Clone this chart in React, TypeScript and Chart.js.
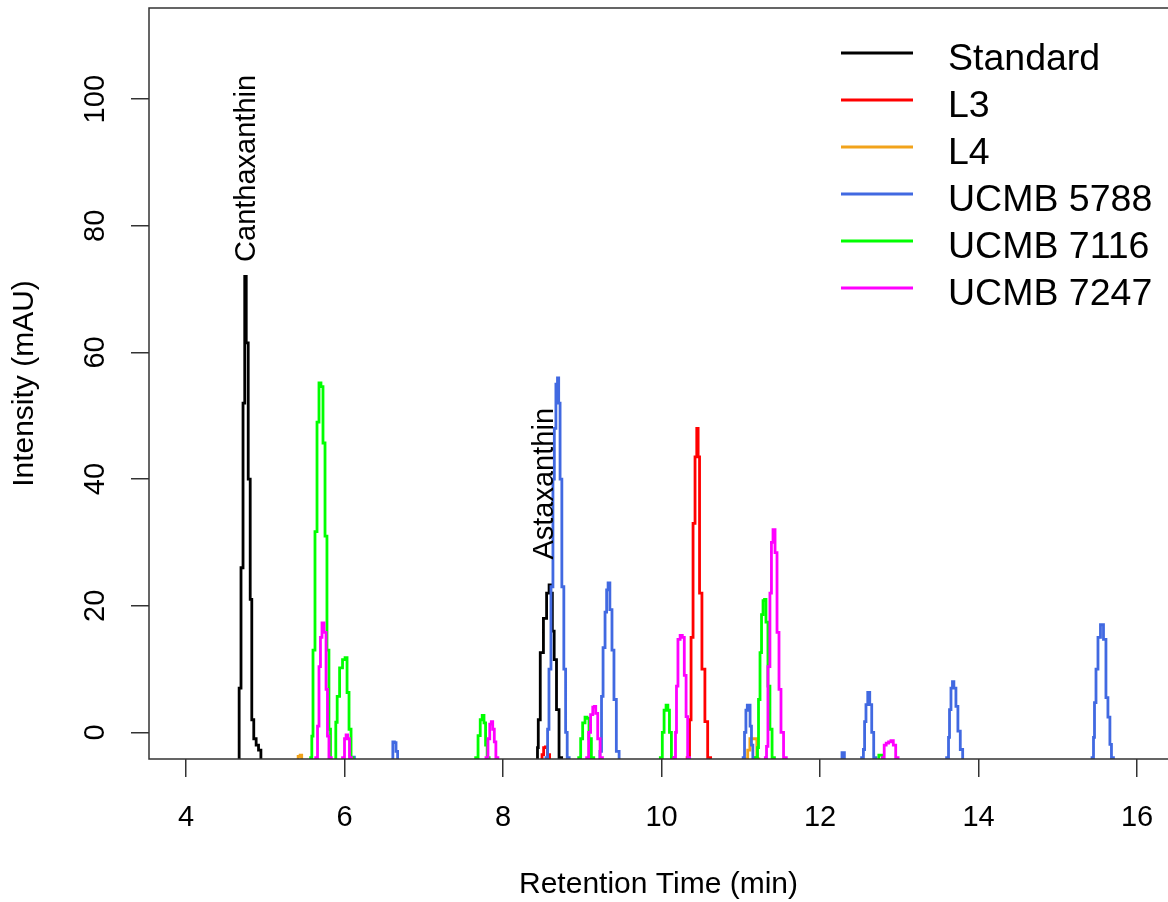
import { useEffect, useRef } from "react";
import { Chart, registerables } from "chart.js";

Chart.register(...registerables);

const FONT = '"Liberation Sans", Arial, Helvetica, sans-serif';

// ---- data (retention time in min, intensity in mAU) ----
const seriesNames = ["Standard", "L3", "L4", "UCMB 5788", "UCMB 7116", "UCMB 7247"];
const seriesColors = ["#000000", "#FF0000", "#F2A31B", "#4169E1", "#00FF00", "#FF00FF"];

const standard: [number, number][] = [
  [3.5, -10], [4.6, -10], [4.66, -5], [4.681, 7], [4.707, 26], [4.732, 52], [4.75, 72],
  [4.77, 61.5], [4.8, 40], [4.82, 21], [4.84, 2], [4.87, -1], [4.9, -2], [4.93, -2.8],
  [4.96, -4.5], [5.0, -10],
  [8.4, -10], [8.43, -4.5], [8.44, -2.4], [8.45, 2], [8.49, 12.6], [8.53, 18], [8.57, 22],
  [8.593, 23.3], [8.61, 22], [8.635, 16], [8.656, 11.5], [8.694, 3.6], [8.72, -4], [8.76, -10],
  [16.4, -10],
];
const l3: [number, number][] = [
  [3.5, -10], [8.48, -10], [8.505, -3.5], [8.52, -2.4], [8.55, -2.3], [8.575, -3.5], [8.6, -10],
  [10.3, -10], [10.347, -4], [10.36, 2], [10.386, 15], [10.41, 33], [10.436, 43.5],
  [10.454, 48], [10.47, 43.5], [10.49, 22], [10.53, 10], [10.565, 1.7], [10.6, -4], [10.64, -10],
  [16.4, -10],
];
const l4: [number, number][] = [
  [3.5, -10], [5.4, -10], [5.43, -3.8], [5.45, -3.6], [5.47, -10],
  [11.04, -10], [11.075, -4.2], [11.1, -2.8], [11.13, -1], [11.19, -1], [11.215, -4.2], [11.24, -10],
  [16.4, -10],
];
const ucmb5788: [number, number][] = [
  [3.5, -10], [6.08, -10], [6.11, -3.9], [6.14, -10],
  [6.6, -6], [6.62, -1.5], [6.64, -1.6], [6.66, -3], [6.68, -6],
  [8.53, -10], [8.555, -4], [8.57, 0.5], [8.59, 10], [8.62, 23], [8.64, 40], [8.655, 48],
  [8.68, 55], [8.695, 56], [8.71, 52], [8.73, 40], [8.755, 23], [8.78, 10], [8.8, 0],
  [8.82, -4], [8.85, -10],
  [9.21, -10], [9.236, -3], [9.25, 5.7], [9.275, 13.4], [9.3, 19], [9.315, 22.5], [9.337, 23.6],
  [9.36, 19.4], [9.39, 13], [9.41, 5.2], [9.45, -3], [9.48, -10],
  [11.02, -10], [11.04, -4], [11.055, 0], [11.075, 3.5], [11.09, 4.3], [11.11, 4.3],
  [11.125, 1], [11.145, -2], [11.16, -4], [11.19, -10],
  [12.25, -10], [12.27, -4.5], [12.285, -3.2], [12.3, -3.2], [12.315, -4.5], [12.34, -10],
  [12.51, -10], [12.54, -4], [12.555, -2.7], [12.57, 1.7], [12.59, 4.4], [12.615, 6.3],
  [12.64, 4.4], [12.665, 0], [12.69, -4], [12.72, -10],
  [13.58, -10], [13.615, -4], [13.628, -0.8], [13.64, 3.6], [13.665, 7], [13.678, 8], [13.7, 7],
  [13.73, 4.1], [13.75, 0.2], [13.79, -2.7], [13.81, -6], [13.84, -10],
  [15.42, -10], [15.445, -4], [15.457, -0.8], [15.47, 4.7], [15.495, 10], [15.52, 15],
  [15.558, 17], [15.596, 14.7], [15.62, 5.5], [15.646, 2.4], [15.67, -1.9], [15.685, -4], [15.72, -10],
  [16.4, -10],
];
const ucmb7116: [number, number][] = [
  [3.5, -10], [5.56, -10], [5.585, -4], [5.59, -0.6], [5.615, 13], [5.64, 31.7], [5.666, 49],
  [5.69, 55.2], [5.716, 54.6], [5.741, 45.7], [5.767, 31], [5.79, 13], [5.817, 0.5], [5.83, -4.5],
  [5.86, -6], [5.885, -4.5], [5.895, 1.6], [5.92, 5.7], [5.956, 10.2], [5.994, 11.5], [6.02, 11.8],
  [6.044, 6.3], [6.07, 0.5], [6.095, -4], [6.12, -10],
  [7.64, -10], [7.67, -4], [7.7, -0.5], [7.725, 2], [7.75, 2.7], [7.77, 1.5], [7.79, -2],
  [7.81, -4], [7.84, -10],
  [8.94, -10], [8.97, -4], [8.99, -1], [9.02, 1.5], [9.05, 2.4], [9.07, 2.2], [9.1, -1],
  [9.13, -4], [9.16, -10],
  [9.97, -10], [10.0, -4], [10.02, 0], [10.045, 3.5], [10.07, 4.3], [10.09, 3.5], [10.11, 0],
  [10.14, -4], [10.17, -10],
  [11.17, -10], [11.205, -4], [11.218, -2.4], [11.23, 5.2], [11.256, 12.6], [11.268, 18.6],
  [11.294, 20.8], [11.306, 21], [11.33, 17.4], [11.356, 7.3], [11.38, 0.5], [11.41, -4], [11.44, -10],
  [12.73, -10], [12.755, -3.6], [12.775, -3.6], [12.8, -10],
  [16.4, -10],
];
const ucmb7247: [number, number][] = [
  [3.5, -10], [5.62, -10], [5.653, -4], [5.666, 1], [5.69, 10.4], [5.703, 15], [5.729, 17.3],
  [5.754, 15.8], [5.78, 6.8], [5.79, -0.6], [5.817, -4], [5.85, -10],
  [5.96, -10], [5.99, -4], [6.01, -1], [6.03, -0.4], [6.05, -1], [6.075, -4], [6.1, -10],
  [7.77, -10], [7.8, -4], [7.82, -1], [7.845, 1.3], [7.86, 1.7], [7.88, 0.5], [7.9, -1.5],
  [7.92, -4], [7.95, -10],
  [9.04, -10], [9.07, -4], [9.09, 0], [9.12, 2.8], [9.145, 4], [9.16, 4.1], [9.18, 3],
  [9.21, -1], [9.24, -4], [9.27, -10],
  [10.14, -10], [10.17, -4], [10.183, 0], [10.195, 7.3], [10.22, 14.7], [10.25, 15.3],
  [10.275, 15], [10.3, 9], [10.32, 2.5], [10.34, -4], [10.37, -10],
  [11.3, -10], [11.32, -4], [11.33, -2.2], [11.356, 10.4], [11.38, 22], [11.394, 30], [11.42, 32],
  [11.445, 28.4], [11.47, 15.8], [11.495, 6.8], [11.52, 0], [11.56, -4], [11.59, -10],
  [12.78, -10], [12.8, -4], [12.82, -2], [12.85, -1.7], [12.88, -1.5], [12.91, -1.3],
  [12.94, -2], [12.97, -4], [13.0, -10],
  [16.4, -10],
];
const seriesData = [standard, l3, l4, ucmb5788, ucmb7116, ucmb7247];

const xTicks = [4, 6, 8, 10, 12, 14, 16];
const yTicks = [0, 20, 40, 60, 80, 100];
const xRange = [3.533, 16.391];
const yRange = [-4.2, 114.4];

const annotationLabels = ["Canthaxanthin", "Astaxanthin"];
const annotationX = [4.77, 8.53];
const annotationY = [74.3, 27.3];

const overlayPlugin = {
  id: "overlay",
  afterDatasetsDraw(chart: any) {
    const { ctx, chartArea: a, scales } = chart;
    ctx.save();
    // plot box (left, top, bottom; right edge lies beyond the canvas)
    ctx.strokeStyle = "#333333";
    ctx.lineWidth = 1.5;
    ctx.beginPath();
    ctx.moveTo(a.right + 20, a.top);
    ctx.lineTo(a.left, a.top);
    ctx.lineTo(a.left, a.bottom);
    ctx.lineTo(a.right + 20, a.bottom);
    ctx.stroke();

    // peak annotations
    ctx.fillStyle = "#000000";
    ctx.font = `29px ${FONT}`;
    ctx.textBaseline = "middle";
    ctx.textAlign = "left";
    annotationLabels.forEach((lab, i) => {
      const x = scales.x.getPixelForValue(annotationX[i]);
      const y = scales.y.getPixelForValue(annotationY[i]);
      ctx.save();
      ctx.translate(x, y);
      ctx.rotate(-Math.PI / 2);
      ctx.fillText(lab, 0, 0);
      ctx.restore();
    });

    // legend (top right, inside plot)
    const lx1 = 841, lx2 = 913, tx = 948, y0 = 53, dy = 47;
    ctx.font = `37.5px ${FONT}`;
    ctx.textBaseline = "alphabetic";
    seriesNames.forEach((name, i) => {
      const y = y0 + i * dy;
      ctx.strokeStyle = seriesColors[i];
      ctx.lineWidth = 3;
      ctx.beginPath();
      ctx.moveTo(lx1, y);
      ctx.lineTo(lx2, y);
      ctx.stroke();
      ctx.fillStyle = "#000000";
      ctx.fillText(name, tx, y + 17);
    });
    ctx.restore();
  },
};

export default function App() {
  const ref = useRef<HTMLCanvasElement>(null);
  useEffect(() => {
    const chart = new Chart(ref.current!, {
      type: "line",
      data: {
        datasets: seriesData.map((pts, i) => ({
          label: seriesNames[i],
          data: pts.map(([x, y]) => ({ x, y })),
          borderColor: seriesColors[i],
          backgroundColor: seriesColors[i],
          borderWidth: 2.8,
          pointRadius: 0,
          tension: 0,
          stepped: "middle",
          fill: false,
          clip: 0,
          order: seriesNames.length - i,
        })),
      },
      options: {
        animation: false,
        responsive: false,
        events: [],
        layout: { padding: { top: 8, left: 0, right: 0, bottom: 0 } },
        plugins: { legend: { display: false }, tooltip: { enabled: false } },
        scales: {
          x: {
            type: "linear",
            min: xRange[0],
            max: xRange[1],
            afterBuildTicks: (s: any) => {
              s.ticks = xTicks.map((v) => ({ value: v }));
            },
            afterFit: (s: any) => {
              s.height = 143;
              s.paddingLeft = 0;
              s.paddingRight = 0;
              s.paddingTop = 0;
              s.paddingBottom = 0;
            },
            grid: { drawOnChartArea: false, drawTicks: true, tickLength: 18, color: "#333333", lineWidth: 1.5 },
            border: { display: false },
            ticks: {
              font: { family: FONT, size: 29 },
              color: "#000000",
              padding: 24,
              autoSkip: false,
              maxRotation: 0,
              minRotation: 0,
            },
            title: {
              display: true,
              text: "Retention Time (min)",
              color: "#000000",
              font: { family: FONT, size: 30, lineHeight: 1 },
              padding: { top: 0, bottom: 2 },
            },
          },
          y: {
            type: "linear",
            min: yRange[0],
            max: yRange[1],
            afterBuildTicks: (s: any) => {
              s.ticks = yTicks.map((v) => ({ value: v }));
            },
            afterFit: (s: any) => {
              s.width = 149;
              s.paddingLeft = 0;
              s.paddingRight = 0;
              s.paddingTop = 0;
              s.paddingBottom = 0;
            },
            grid: { drawOnChartArea: false, drawTicks: true, tickLength: 18, color: "#333333", lineWidth: 1.5 },
            border: { display: false },
            ticks: {
              font: { family: FONT, size: 29 },
              color: "#000000",
              padding: 11,
              autoSkip: false,
              minRotation: 90,
              maxRotation: 90,
              crossAlign: "center",
            },
            title: {
              display: true,
              text: "Intensity (mAU)",
              color: "#000000",
              font: { family: FONT, size: 30, lineHeight: 1 },
              padding: { top: 10, bottom: 0 },
            },
          },
        },
      },
      plugins: [overlayPlugin],
    } as any);
    return () => chart.destroy();
  }, []);

  return (
    <div style={{ position: "absolute", left: 0, top: 0, width: 1168, height: 902, background: "#ffffff" }}>
      <canvas ref={ref} width={1168} height={902} style={{ display: "block", width: 1168, height: 902 }} />
    </div>
  );
}
